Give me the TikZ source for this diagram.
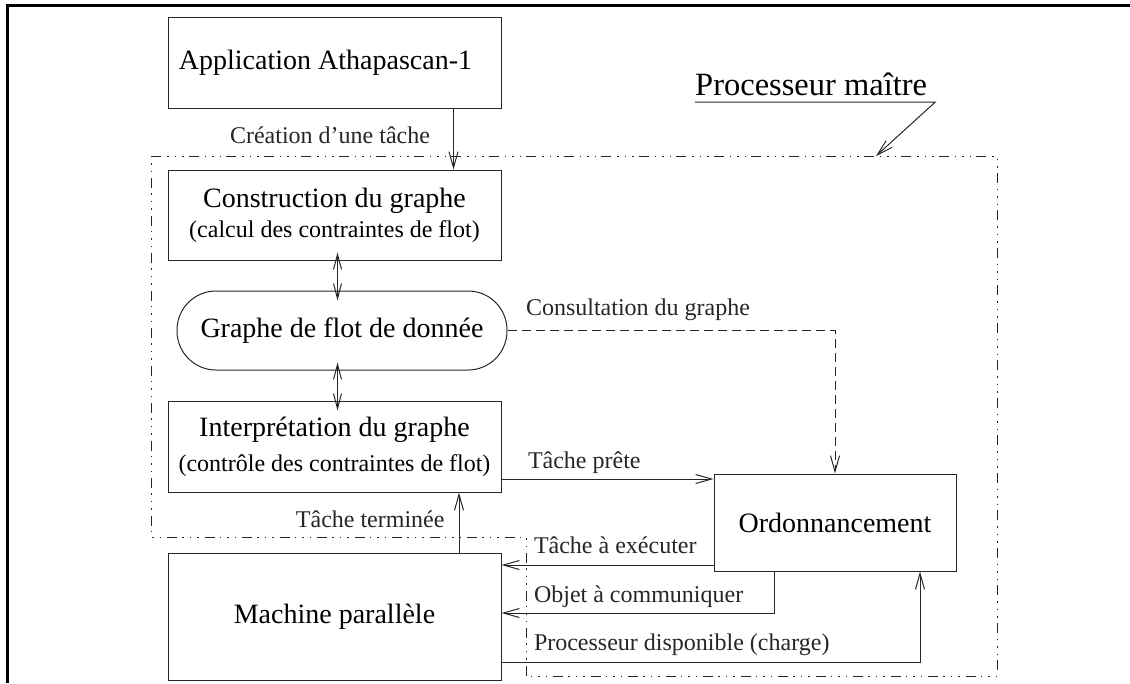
\documentclass[tikz,border=0pt]{standalone}
\usepackage{fontspec}
\setmainfont{Liberation Serif}
\usetikzlibrary{positioning,arrows.meta,calc}
\newcommand{\subfnt}{\fontsize{24}{28}\selectfont}
\tikzstyle{pbox}=[rectangle, draw=black!85, line width=1pt, minimum width=333pt,
                  inner sep=0pt, align=center, font=\fontsize{28}{30}\selectfont]
\tikzstyle{gbox}=[pbox, rounded corners=39pt, minimum width=330pt, minimum height=79pt]
\tikzstyle{lbl}=[inner sep=0pt, font=\fontsize{24}{28}\selectfont]
\tikzstyle{pline}=[-, line width=1pt, black!85]
\tikzstyle{parrow}=[pline, -{Straight Barb[length=16pt,width=9pt]}]
\tikzstyle{dblarrow}=[pline, {Straight Barb[length=15pt,width=8pt]}-{Straight Barb[length=15pt,width=8pt]},
                      shorten <=-8pt, shorten >=-10pt]
\tikzstyle{darrow}=[parrow, dash pattern=on 9pt off 5pt]
\tikzstyle{mline}=[line width=1pt, black!85, dash pattern=on 10pt off 6pt on 1.5pt off 6pt on 1.5pt off 6pt on 1.5pt off 5pt]

\begin{document}
\begin{tikzpicture}[x=1pt,y=-1pt]
\useasboundingbox (0,0) rectangle (1130,683);
\draw[line width=3pt] (7,683) -- (7,5) -- (1130,5);

\node (APPLI) [pbox, minimum height=91pt] at (334.5,62.5) {\hspace*{-18pt}Application Athapascan-1};
\node (CONSGR) [pbox, minimum height=90pt, below=61pt of APPLI] {Construction du graphe\\{\subfnt (calcul des contraintes de flot)}};
\node (GRAPHE) [gbox, below=30pt of CONSGR, xshift=7.5pt] {Graphe de flot de donnée};
\node (INTERP) [pbox, minimum height=91pt, below=30pt of GRAPHE, xshift=-7.5pt] {Interprétation du graphe\\[5pt]{\subfnt (contrôle des contraintes de flot)}};
\node (MACHINE) [pbox, minimum height=127pt, below=60pt of INTERP] {Machine parallèle};
\node (ORDO) [pbox, minimum width=242pt, minimum height=97pt, right=212pt of INTERP, yshift=-76pt] {Ordonnancement};

% processeur maitre
\coordinate (PMTL) at (151,156);
\coordinate (PMTR) at (997,156);
\coordinate (PMBR) at (997,676);
\coordinate (PMBN) at (526,676);
\coordinate (PMTN) at (526,537);
\coordinate (PMBL) at (151,537);
\coordinate (PMTIP) at (876,156);
\draw[mline] (PMTL) -- (PMTR) -- (PMBR) -- (PMBN) -- (PMTN) -- (PMBL) -- cycle;
\node (PMAITRE) [lbl, font=\fontsize{32.5}{36}\selectfont, anchor=base west] at (695,95) {Processeur maître};
\draw[parrow] ([yshift=-7pt]PMAITRE.base west) -- ([yshift=-7pt,xshift=8pt]PMAITRE.base east) -- (PMTIP);

\draw[parrow] ([xshift=-48pt]APPLI.south east) -- ([xshift=-48pt]APPLI.south east |- CONSGR.north)
  node[lbl, pos=0.5, anchor=base east, xshift=-23pt, yshift=-4.5pt] (LCREA) {Création d'une tâche};
\draw[dblarrow] ([xshift=3pt]CONSGR.south) -- ([xshift=3pt]CONSGR.south |- GRAPHE.north);
\draw[dblarrow] ([xshift=3pt]INTERP.north |- GRAPHE.south) -- ([xshift=3pt]INTERP.north);
\draw[darrow] (GRAPHE.east) -| (ORDO.north)
  node[lbl, pos=0, anchor=base west, xshift=18pt, yshift=15.5pt] (LCONS) {Consultation du graphe};
\draw[parrow] ([yshift=-32.5pt]INTERP.east) -- ([yshift=-32.5pt]INTERP.east -| ORDO.west)
  node[lbl, pos=0, anchor=base west, xshift=26pt, yshift=11pt] (LPRETE) {Tâche prête};
\draw[parrow] ([xshift=124.5pt]MACHINE.north) -- ([xshift=124.5pt]MACHINE.north |- INTERP.south)
  node[lbl, pos=0, anchor=base east, xshift=-14pt, yshift=25pt] (LTERM) {Tâche terminée};
\draw[parrow] ([yshift=-42.5pt]ORDO.west) -- ([yshift=-42.5pt]ORDO.west -| MACHINE.east)
  node[lbl, pos=1, anchor=base west, xshift=32pt, yshift=12pt] (LEXEC) {Tâche à exécuter};
\draw[parrow] ([xshift=-61pt]ORDO.south) |- ([yshift=3.5pt]MACHINE.east)
  node[lbl, pos=1, anchor=base west, xshift=32pt, yshift=11pt] (LOBJ) {Objet à communiquer};
\draw[parrow] ([yshift=-45.5pt]MACHINE.east) -| ([xshift=85pt]ORDO.south)
  node[lbl, pos=0, anchor=base west, xshift=32pt, yshift=12pt] (LDISP) {Processeur disponible (charge)};

\end{tikzpicture}
\end{document}
